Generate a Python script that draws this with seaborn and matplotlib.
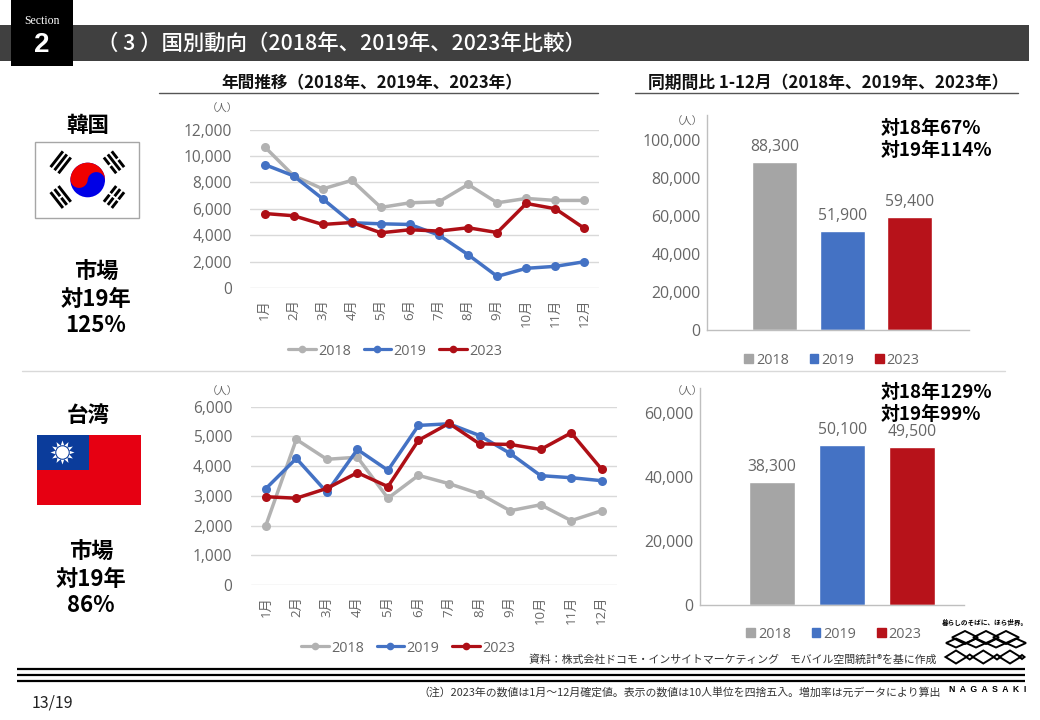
import numpy as np
import pandas as pd
import matplotlib
matplotlib.use("Agg")
import matplotlib.pyplot as plt
import matplotlib.patches as mp
from matplotlib.lines import Line2D
from matplotlib.ticker import FuncFormatter
import seaborn as sns

months = ["1月","2月","3月","4月","5月","6月","7月","8月","9月","10月","11月","12月"]
years = ["2018","2019","2023"]
kr_2018 = [10700,8500,7500,8150,6100,6450,6530,7840,6450,6780,6630,6630]
kr_2019 = [9350,8490,6750,4940,4860,4810,4000,2520,880,1490,1640,1990]
kr_2023 = [5640,5470,4810,4960,4180,4410,4310,4560,4200,6400,6000,4510]
tw_2018 = [1995,4900,4230,4300,2920,3690,3410,3070,2500,2700,2165,2500]
tw_2019 = [3240,4260,3120,4560,3860,5370,5425,5030,4430,3680,3610,3510]
tw_2023 = [2970,2920,3250,3780,3310,4870,5440,4750,4730,4560,5120,3890]
kr_total = [88300,51900,59400]
tw_total = [38300,50100,49500]
line_colors = ["#B2B2B2","#4472C4","#AE0F16"]
bar_colors = ["#A5A5A5","#4472C4","#B7121A"]

sns.set_theme(style="white")
FONT = ["Noto Sans CJK JP","DejaVu Sans"]
NUM = ["Open Sans","Noto Sans CJK JP"]
plt.rcParams["font.family"] = FONT
W, H = 1040, 720
GREY = "#666666"
fig = plt.figure(figsize=(W/100, H/100), dpi=100, facecolor="white")

def box(l, t, r, b, **kw):
    return fig.add_axes([l/W, 1-b/H, (r-l)/W, (b-t)/H], **kw)

def legend(ax, handles, cx, cy, **kw):
    ax.legend(handles=handles, labels=years, loc="center", ncol=3, frameon=False,
              bbox_to_anchor=(cx/W, 1-cy/H), bbox_transform=fig.transFigure,
              prop={"family": NUM, "size": 10.4}, labelcolor=GREY, borderpad=0, **kw)

def line_panel(rect, s18, s19, s23, ymax, step, leg):
    ax = box(*rect)
    df = pd.DataFrame({"month": months*3,
                       "year": np.repeat(years, 12),
                       "value": list(s18)+list(s19)+list(s23)})
    sns.lineplot(data=df, x="month", y="value", hue="year", palette=line_colors,
                 sort=False, marker="o", markersize=6.5, markeredgewidth=0,
                 linewidth=2.5, ax=ax, errorbar=None, legend=False)
    ax.set_xlim(-0.5, 11.5)
    ax.set_ylim(0, ymax)
    ax.set_yticks(np.arange(0, ymax+1, step))
    ax.yaxis.set_major_formatter(FuncFormatter(lambda v, _: f"{v:,.0f}"))
    ax.set_xlabel(""); ax.set_ylabel("")
    ax.grid(axis="y", color="#D9D9D9", lw=1)
    ax.set_axisbelow(True)
    sns.despine(ax=ax, left=True, bottom=True)
    ax.tick_params(axis="y", length=0, pad=13, labelsize=11.2, labelcolor=GREY)
    ax.tick_params(axis="x", length=0, pad=8, labelsize=9.5, labelcolor=GREY, labelrotation=90)
    for lb in ax.get_xticklabels() + ax.get_yticklabels():
        lb.set_family(NUM)
    hs = [Line2D([], [], color=c, lw=2.3, marker="o", ms=5.5, mew=0) for c in line_colors]
    legend(ax, hs, *leg, handlelength=1.9, handletextpad=0.15, columnspacing=0.9)
    return ax

def bar_panel(rect, vals, ymax, step, xlim, width, leg):
    ax = box(*rect)
    df = pd.DataFrame({"year": years, "value": vals})
    sns.barplot(data=df, x="year", y="value", hue="year", palette=bar_colors,
                width=width, saturation=1, dodge=False, legend=False, ax=ax)
    ax.set_xlim(*xlim)
    ax.set_ylim(0, ymax)
    ax.set_yticks(np.arange(0, (ymax//step+1)*step, step))
    ax.yaxis.set_major_formatter(FuncFormatter(lambda v, _: f"{v:,.0f}"))
    ax.set_xlabel(""); ax.set_ylabel("")
    ax.set_xticks([])
    sns.despine(ax=ax)
    for s in ["left","bottom"]:
        ax.spines[s].set_color("#BFBFBF"); ax.spines[s].set_linewidth(1)
    ax.tick_params(axis="y", length=0, pad=5, labelsize=11.4, labelcolor=GREY)
    for lb in ax.get_yticklabels():
        lb.set_family(NUM)
    for c in ax.containers:
        ax.bar_label(c, fmt="{:,.0f}", padding=5, fontsize=11.3, color=GREY, family=NUM)
    hs = [mp.Patch(color=c) for c in bar_colors]
    legend(ax, hs, *leg, handlelength=0.6, handleheight=0.6, handletextpad=0.2, columnspacing=1.45)
    return ax

line_panel((250, 129.5, 599, 288), kr_2018, kr_2019, kr_2023, 12000, 2000, (395, 351))
line_panel((250.5, 406.7, 617, 585), tw_2018, tw_2019, tw_2023, 6000, 1000, (408, 648))
bar_panel((707.3, 115, 969, 330.3), kr_total, 112900, 20000, (-0.996, 2.88), 0.667, (832, 360))
bar_panel((700.3, 388, 964, 605), tw_total, 67800, 20000, (-1.024, 2.74), 0.657, (834, 634))

# overlay in pixel coordinates: slide furniture
ov = fig.add_axes([0, 0, 1, 1], zorder=10)
ov.set_xlim(0, W); ov.set_ylim(H, 0); ov.axis("off"); ov.patch.set_alpha(0)

def T(x, y, s, size=10, color="black", ha="center", weight="normal", **kw):
    ov.text(x, y, s, fontsize=size, color=color, ha=ha, va="center", fontweight=weight, **kw)

ov.add_patch(mp.Rectangle((0, 25), 1029, 36, color="#404040", lw=0))
ov.add_patch(mp.Rectangle((11, 0), 62, 66, color="black", lw=0))
T(42, 21, "Section", 8.5, "white", family="Liberation Serif")
T(42, 44.5, "2", 20, "white", weight="bold", family="Liberation Sans")
T(97, 44, "（ 3 ）国別動向（2018年、2019年、2023年比較）", 15.4, "white", ha="left", weight="medium")

T(372, 83, "年間推移（2018年、2019年、2023年）", 12, "#111111", weight="bold")
T(828, 83, "同期間比 1-12月（2018年、2019年、2023年）", 12.1, "#111111", weight="bold")
ov.plot([159, 598], [92.5, 92.5], color="#555555", lw=1)
ov.plot([635, 1018], [92.5, 92.5], color="#555555", lw=1)
ov.plot([22, 1005], [370.5, 370.5], color="#D9D9D9", lw=1)

T(222, 108.5, "（人）", 7.5, GREY)
T(222, 391.5, "（人）", 7.5, GREY)
T(687, 122, "（人）", 7.5, GREY)
T(687, 392, "（人）", 7.5, GREY)

T(88, 125, "韓国", 15.5, weight="bold")
T(96, 299, "市場\n対19年\n125%", 16, weight="bold", linespacing=1.18)
T(88, 415, "台湾", 15.5, weight="bold")
T(91, 579, "市場\n対19年\n86%", 16, weight="bold", linespacing=1.18)
T(881, 139, "対18年67%\n対19年114%", 13.6, ha="left", weight="bold", linespacing=1.2)
T(881, 404, "対18年129%\n対19年99%", 13.6, ha="left", weight="bold", linespacing=1.2)

# Korean flag
ov.add_patch(mp.Rectangle((35, 141.7), 104.3, 76.3, fc="white", ec="#A6A6A6", lw=1))
cx, cy, R = 87.7, 180, 17.3
ov.add_patch(mp.Circle((cx, cy), R, color="#0000E6", lw=0))
a = np.radians(5)
def rot(px, py):
    return (cx + px*np.cos(a) - py*np.sin(a), cy + px*np.sin(a) + py*np.cos(a))
th = np.radians(np.arange(180, 361, 5))
top = [rot(R*np.cos(t), R*np.sin(t)) for t in th]
tt = np.radians(np.arange(0, 181, 5))
s1 = [rot(R/2 + R/2*np.cos(t), -R/2*np.sin(t)) for t in tt]
s2 = [rot(-R/2 + R/2*np.cos(t), R/2*np.sin(t)) for t in tt]
ov.add_patch(mp.Polygon(top + s1 + s2, closed=True, color="#F00000", lw=0))
for ang, x0, y0, brk in [(-52, 60.7, 162.3, [0,0,0]), (52, 114, 162.3, [1,0,1]),
                         (52, 60.7, 197, [0,1,0]), (-52, 114, 197, [1,1,1])]:
    d = np.radians(ang)
    ux, uy = np.cos(d), np.sin(d)
    nx, ny = -uy, ux
    for i, b in enumerate(brk):
        off = (i-1)*5
        px, py = x0+nx*off, y0+ny*off
        L = 10
        if b:
            for sgn in (-1, 1):
                ov.plot([px+ux*sgn*1, px+ux*sgn*L], [py+uy*sgn*1, py+uy*sgn*L], color="black", lw=2.1, solid_capstyle="butt")
        else:
            ov.plot([px-ux*L, px+ux*L], [py-uy*L, py+uy*L], color="black", lw=2.1, solid_capstyle="butt")

# Taiwan flag
ov.add_patch(mp.Rectangle((37, 435), 104, 70, color="#E60012", lw=0))
ov.add_patch(mp.Rectangle((37, 435), 52, 35, color="#0B3C9B", lw=0))
scx, scy = 62.5, 452.5
for k in range(12):
    t = np.radians(k*30)
    t1, t2 = t-np.radians(15), t+np.radians(15)
    ov.add_patch(mp.Polygon([(scx+12*np.cos(t), scy+12*np.sin(t)),
                             (scx+7*np.cos(t1), scy+7*np.sin(t1)),
                             (scx+7*np.cos(t2), scy+7*np.sin(t2))], color="white", lw=0))
ov.add_patch(mp.Circle((scx, scy), 7.2, color="#0B3C9B", lw=0))
ov.add_patch(mp.Circle((scx, scy), 6.2, color="white", lw=0))

# footer
for y in [669, 674.5, 680.5]:
    ov.plot([17, 1025], [y, y], color="black", lw=1.6, solid_capstyle="butt")
T(936, 660, "資料：株式会社ドコモ・インサイトマーケティング　モバイル空間統計®を基に作成", 7.85, "#333333", ha="right")
T(941, 692, "（注）2023年の数値は1月～12月確定値。表示の数値は10人単位を四捨五入。増加率は元データにより算出", 7.85, "#333333", ha="right")
T(32, 703, "13/19", 11.5, "#222222", ha="left")

# logo
T(985, 622.5, "暮らしのそばに、ほら世界。", 4.8, weight="bold")
T(1026, 689.5, "N  A  G  A  S  A  K  I", 6.2, ha="right", weight="bold", family="Liberation Sans")
def diamond(c, y, w, h):
    ov.add_patch(mp.Polygon([(c-w, y), (c, y-h), (c+w, y), (c, y+h)], closed=True, fc="none", ec="black", lw=1.4))
for c in [965, 986, 1006]:
    diamond(c, 637.5, 13, 6.5)
for c in [956, 976, 996, 1016]:
    diamond(c, 643, 10, 4.5)
for c in [956, 983.3, 1010]:
    diamond(c, 657, 10.5, 6.5)
for c in [969.7, 997]:
    diamond(c, 657, 3.5, 2.5)
diamond(1022, 657, 2.5, 2)

fig.savefig("out.png", dpi=100, facecolor="white")
